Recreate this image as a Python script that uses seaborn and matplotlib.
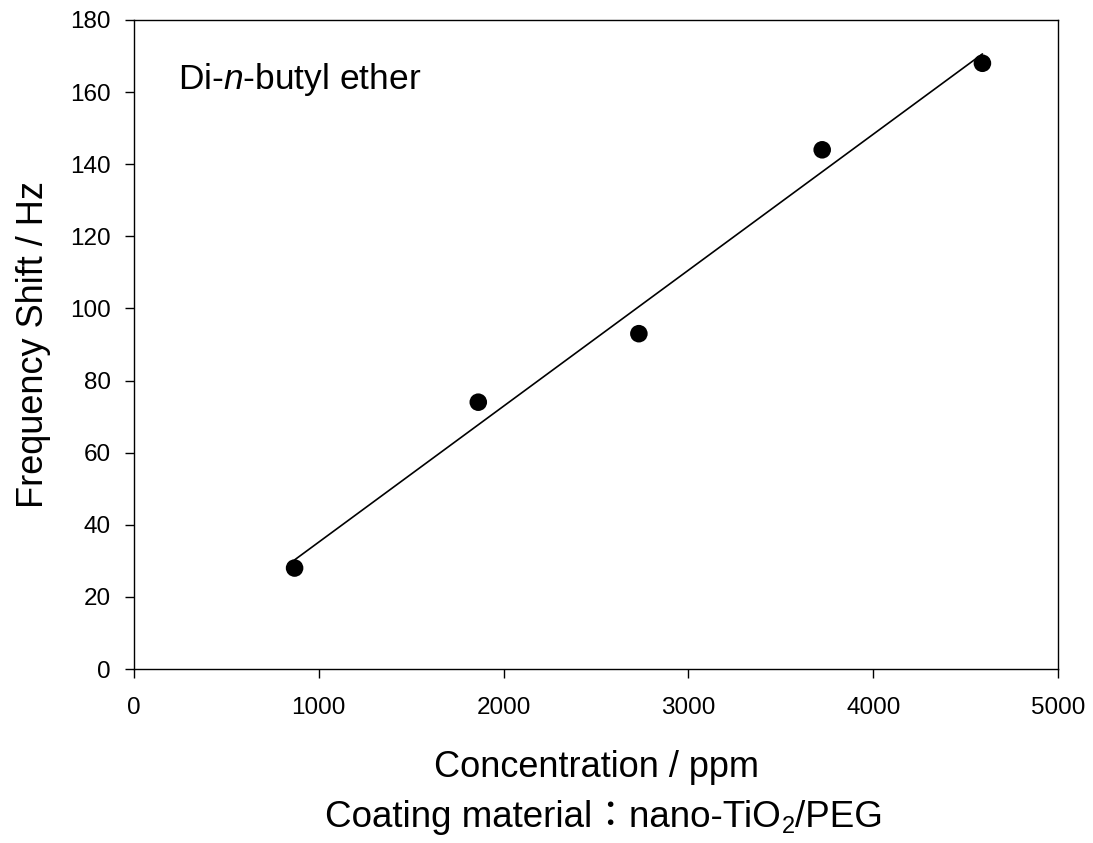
import matplotlib
matplotlib.use("Agg")
import matplotlib.pyplot as plt
import seaborn as sns
import pandas as pd

# Data
concentration = [869, 1863, 2732, 3724, 4591]
freq_shift = [28, 74, 93, 144, 168]
x_ticks = [0, 1000, 2000, 3000, 4000, 5000]
y_ticks = [0, 20, 40, 60, 80, 100, 120, 140, 160, 180]

sns.set_style("ticks")
plt.rcParams["font.family"] = ["Liberation Sans", "Noto Sans CJK JP", "DejaVu Sans"]
plt.rcParams["mathtext.fontset"] = "custom"
plt.rcParams["mathtext.rm"] = "Liberation Sans"
plt.rcParams["mathtext.it"] = "Liberation Sans:italic"
plt.rcParams["text.color"] = "black"
plt.rcParams["axes.labelcolor"] = "black"

df = pd.DataFrame({"conc": concentration, "shift": freq_shift})

fig = plt.figure(figsize=(10.93, 8.43), dpi=100)
ax = fig.add_axes([134 / 1093, 1 - 669 / 843, (1058 - 134) / 1093, (669 - 20) / 843])

sns.regplot(data=df, x="conc", y="shift", ax=ax, ci=None, truncate=True,
            scatter_kws=dict(s=160, color="black", edgecolor="none", alpha=1, zorder=3),
            line_kws=dict(color="black", lw=1.2, zorder=2))

ax.set_xlim(0, 5000)
ax.set_ylim(0, 180)
ax.set_xticks(x_ticks)
ax.set_yticks(y_ticks)
ax.tick_params(direction="out", length=6.5, width=1, labelsize=17.5, color="black", labelcolor="black")
ax.tick_params(axis="x", pad=13.5)
ax.tick_params(axis="y", pad=10)
for s in ax.spines.values():
    s.set_visible(True)
    s.set_linewidth(1)
    s.set_color("black")

ax.set_xlabel("Concentration / ppm", fontsize=26, labelpad=22.5)
ax.set_ylabel("Frequency Shift / Hz", fontsize=26, labelpad=14)

ax.text(238, 161, "Di-$\\it{n}$-butyl ether", fontsize=25.5, ha="left", va="baseline")

# Second line under the x label
ybase = 1 - 827 / 843
t1 = fig.text(325 / 1093, ybase, "Coating material\uff1anano-TiO", fontsize=26.5,
              ha="left", va="baseline")
t2 = ax.annotate("2", xy=(1, ybase), xycoords=(t1, "figure fraction"),
                 xytext=(0.5, -4.5), textcoords="offset points",
                 fontsize=17, ha="left", va="baseline", annotation_clip=False)
t3 = ax.annotate("/PEG", xy=(1, ybase), xycoords=(t2, "figure fraction"),
                 xytext=(0, 0), textcoords="offset points",
                 fontsize=26.5, ha="left", va="baseline", annotation_clip=False)

fig.savefig("out.png", dpi=100, facecolor="white")
